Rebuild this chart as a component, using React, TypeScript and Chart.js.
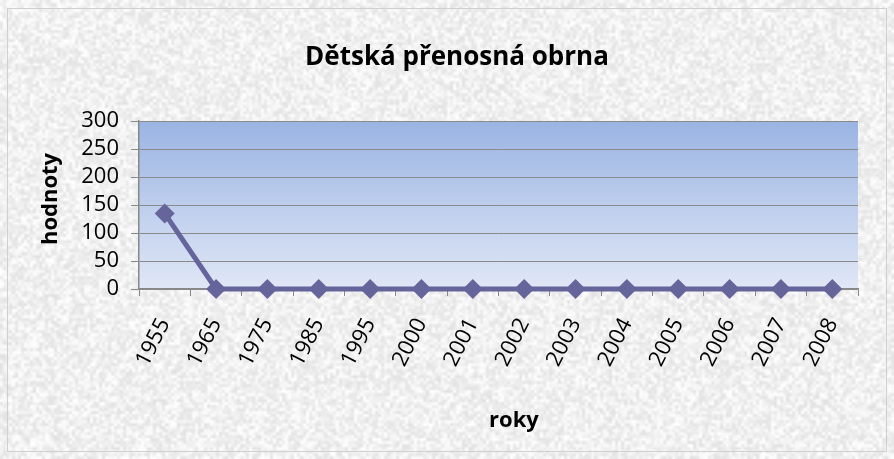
import React, { useEffect, useRef } from "react";
import { Chart, registerables } from "chart.js";

Chart.register(...registerables);

const categories = ["1955", "1965", "1975", "1985", "1995", "2000", "2001", "2002", "2003", "2004", "2005", "2006", "2007", "2008"];
const values = [135, 0, 0, 0, 0, 0, 0, 0, 0, 0, 0, 0, 0, 0];
const chartTitle = "Dětská přenosná obrna";
const yTitle = "hodnoty";
const xTitle = "roky";

const FONT = "'Open Sans', 'Liberation Sans', sans-serif";

function makeTexture(w: number, h: number) {
  const small = document.createElement("canvas");
  const sw = Math.ceil(w / 3);
  const sh = Math.ceil(h / 3);
  small.width = sw;
  small.height = sh;
  const sctx = small.getContext("2d")!;
  const img = sctx.createImageData(sw, sh);
  let seed = 12345;
  const rnd = () => {
    seed = (seed * 1103515245 + 12345) & 0x7fffffff;
    return seed / 0x7fffffff;
  };
  for (let i = 0; i < sw * sh; i++) {
    const v = 226 + Math.floor(rnd() * 30);
    img.data[i * 4] = v;
    img.data[i * 4 + 1] = v;
    img.data[i * 4 + 2] = v;
    img.data[i * 4 + 3] = 255;
  }
  sctx.putImageData(img, 0, 0);
  const big = document.createElement("canvas");
  big.width = w;
  big.height = h;
  const bctx = big.getContext("2d")!;
  bctx.imageSmoothingEnabled = true;
  bctx.drawImage(small, 0, 0, w, h);
  return big;
}

let texture: HTMLCanvasElement | null = null;

const decorPlugin = {
  id: "decor",
  beforeDraw(chart: any) {
    const { ctx, width, height, chartArea } = chart;
    ctx.save();
    if (!texture) texture = makeTexture(width, height);
    ctx.drawImage(texture, 0, 0);
    ctx.strokeStyle = "#d0d0d0";
    ctx.lineWidth = 1;
    ctx.strokeRect(7.5, 8.5, width - 15, height - 16);
    const g = ctx.createLinearGradient(0, chartArea.top, 0, chartArea.bottom);
    g.addColorStop(0, "#9ab4e3");
    g.addColorStop(1, "#e0e7f6");
    ctx.fillStyle = g;
    ctx.fillRect(chartArea.left, chartArea.top, chartArea.right - chartArea.left, chartArea.bottom - chartArea.top);
    ctx.restore();
  },
  afterDraw(chart: any) {
    const { ctx } = chart;
    ctx.save();
    ctx.fillStyle = "#000";
    ctx.textAlign = "center";
    ctx.textBaseline = "middle";
    ctx.font = `bold 26px ${FONT}`;
    ctx.fillText(chartTitle, 457, 58);
    ctx.font = `bold 22px ${FONT}`;
    ctx.fillText(xTitle, 514, 421);
    ctx.translate(51, 199);
    ctx.rotate(-Math.PI / 2);
    ctx.fillText(yTitle, 0, 0);
    ctx.restore();
  },
};

export default function App() {
  const ref = useRef<HTMLCanvasElement>(null);
  useEffect(() => {
    const chart = new Chart(ref.current!, {
      type: "line",
      data: {
        labels: categories,
        datasets: [
          {
            data: values,
            borderColor: "#65659c",
            backgroundColor: "#65659c",
            borderWidth: 5,
            pointStyle: "rectRot",
            pointRadius: 10,
            pointBorderWidth: 0,
            tension: 0,
            clip: false,
          },
        ],
      },
      options: {
        animation: false,
        responsive: false,
        layout: { padding: { top: 121, right: 36, left: 0, bottom: 0 } },
        plugins: { legend: { display: false }, title: { display: false }, tooltip: { enabled: false } },
        scales: {
          x: {
            offset: true,
            grid: { offset: true, drawOnChartArea: false, color: "#888", tickLength: 7 },
            border: { color: "#888", width: 1.5 },
            ticks: { color: "#000", font: { family: FONT, size: 22 }, minRotation: 63, maxRotation: 63, padding: 18, autoSkip: false },
            afterFit(scale: any) {
              scale.height = 170;
            },
          },
          y: {
            min: 0,
            max: 300,
            ticks: { stepSize: 50, color: "#000", font: { family: FONT, size: 22 }, padding: 12, autoSkip: false },
            grid: { color: "#8a8a8a", tickLength: 8 },
            border: { color: "#888", width: 1.5 },
            afterFit(scale: any) {
              scale.width = 139;
            },
          },
        },
      },
      plugins: [decorPlugin],
    });
    return () => chart.destroy();
  }, []);
  return (
    <div style={{ position: "fixed", left: 0, top: 0, width: 894, height: 459 }}>
      <canvas ref={ref} width={894} height={459} style={{ width: 894, height: 459 }} />
    </div>
  );
}
